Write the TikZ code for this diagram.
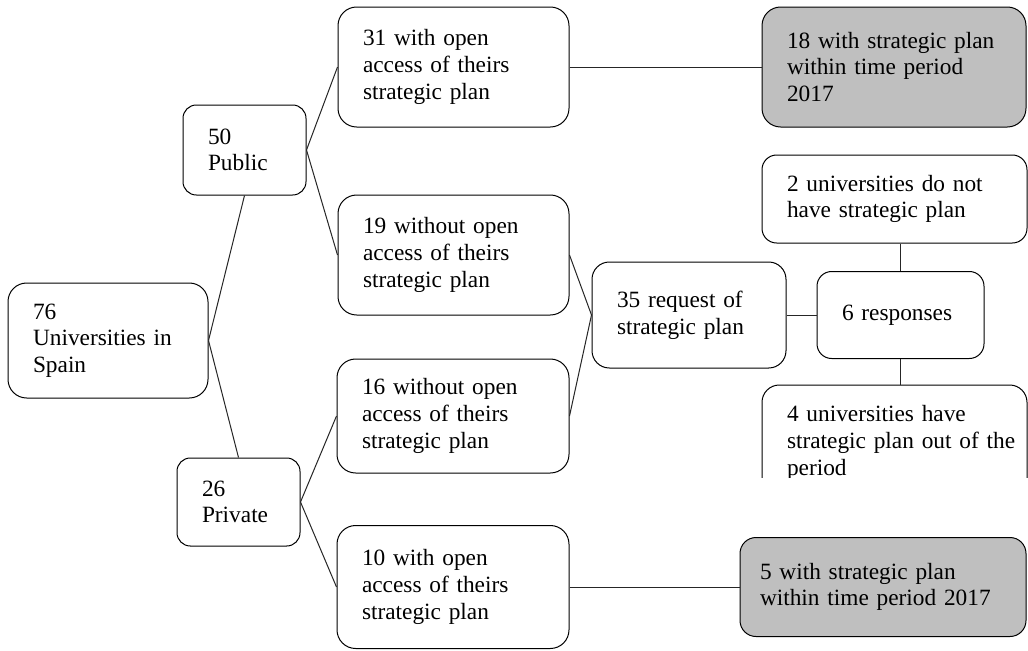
\documentclass[tikz,border=0pt]{standalone}
\usepackage{fontspec}
\setmainfont{Liberation Serif}
\begin{document}
\begin{tikzpicture}[
  x=0.75pt, y=-0.75pt,
  box/.style={draw=black, line width=0.75pt, align=left, inner ysep=0pt,
    inner xsep=18.75pt, font=\fontsize{17.5pt}{20pt}\selectfont},
  result/.style={box, fill=black!25},
  link/.style={draw=black!85, line width=0.75pt}
]
\fill[white] (0,0) rectangle (1028,650);
\useasboundingbox (0,0) rectangle (1028,650);

% first level
\node[box, rounded corners=14pt, minimum width=150pt, minimum height=86.25pt, text width=112.5pt]
  (uni) at (108,340.5) {76\\Universities in\\Spain};

% public / private split
\node[box, rounded corners=10pt, minimum width=92.25pt, minimum height=67.5pt, text width=54.75pt]
  (pub) at (244.5,150) {50\\Public};
\node[box, rounded corners=10pt, minimum width=92.25pt, minimum height=66pt, text width=54.75pt]
  (priv) at (238.5,502) {26\\Private};

% access to the strategic plan
\node[box, rounded corners=14pt, minimum width=173.25pt, minimum height=90pt, text width=135.75pt]
  (open31) at (453.5,67) {31 with open\\access of theirs\\strategic plan};
\node[box, rounded corners=14pt, minimum width=173.25pt, minimum height=90pt, text width=135.75pt]
  (closed19) at (453.5,255) {19 without open\\access of theirs\\strategic plan};
\node[box, rounded corners=14pt, minimum width=174pt, minimum height=85.5pt, text width=136.5pt]
  (closed16) at (453,416) {16 without open\\access of theirs\\strategic plan};
\node[box, rounded corners=14pt, minimum width=174pt, minimum height=92.25pt, text width=136.5pt]
  (open10) at (453,587) {10 with open\\access of theirs\\strategic plan};

% requests and responses
\node[box, rounded corners=13pt, minimum width=145.5pt, minimum height=79.5pt, text width=108pt]
  (req35) at (689,315) {35 request of\\strategic plan};
\node[box, rounded corners=11pt, minimum width=125.25pt, minimum height=65.25pt, text width=87.75pt]
  (resp6) at (900.5,315) {6 responses};
\node[box, rounded corners=11pt, minimum width=198.75pt, minimum height=66pt, text width=161.25pt]
  (none2) at (894.5,199) {2 universities do not\\have strategic plan};
\begin{scope}
  % the lower part of this box is cut away
  \clip (740,370) rectangle (1030,477);
  \node[box, rounded corners=13pt, minimum width=198.75pt, minimum height=87pt, text width=161.25pt]
    (out4) at (894.5,443) {4 universities have\\\mbox{strategic plan out of the}\\period};
\end{scope}

% plans within the period
\node[result, rounded corners=14pt, minimum width=198pt, minimum height=90pt, text width=160.5pt]
  (plan18) at (894,67) {18 with strategic plan\\within time period\\2017};
\node[result, rounded corners=12pt, inner xsep=15pt, minimum width=214.5pt, minimum height=74.25pt, text width=184.5pt]
  (plan5) at (883,587) {5 with strategic plan\\within time period 2017};

% connectors
\draw[link] (uni.east) -- (pub.south);
\draw[link] (uni.east) -- (priv.north);
\draw[link] (pub.east) -- (open31.west);
\draw[link] (pub.east) -- (closed19.west);
\draw[link] (priv.east) -- (closed16.west);
\draw[link] (priv.east) -- (open10.west);
\draw[link] (open31.east) -- (plan18.west);
\draw[link] (open10.east) -- (plan5.west);
\draw[link] (closed19.east) -- (req35.west);
\draw[link] (closed16.east) -- (req35.west);
\draw[link] (req35.east) -- (resp6.west);
\draw[link] (resp6.north) -- (resp6.north |- none2.south);
\draw[link] (resp6.south) -- (resp6.south |- out4.north);
\end{tikzpicture}
\end{document}
